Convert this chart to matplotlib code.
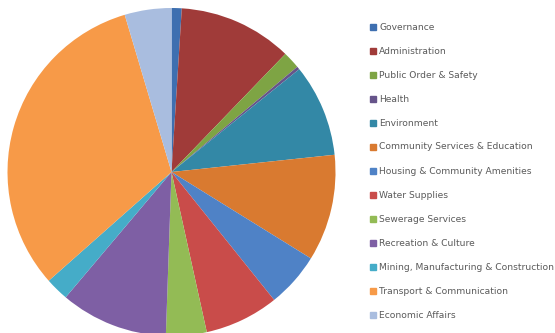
import numpy as np
import matplotlib
matplotlib.use("Agg")
import matplotlib.pyplot as plt
from matplotlib.patches import Rectangle

# spending categories and their shares (percent)
categories = [
    "Governance",
    "Administration",
    "Public Order & Safety",
    "Health",
    "Environment",
    "Community Services & Education",
    "Housing & Community Amenities",
    "Water Supplies",
    "Sewerage Services",
    "Recreation & Culture",
    "Mining, Manufacturing & Construction",
    "Transport & Communication",
    "Economic Affairs",
]
shares = [1.0, 11.2, 1.7, 0.3, 9.1, 10.5, 5.4, 7.3, 4.0, 10.6, 2.3, 31.9, 4.6]
colours = [
    "#3e6fb0", "#a03b39", "#7ea444", "#66548a", "#3388a6", "#d97a30",
    "#4f82c6", "#c94c4a", "#93bb55", "#7e5fa4", "#45acc8", "#f79a48",
    "#a9bddf",
]

W, H = 555, 333
fig = plt.figure(figsize=(W / 100, H / 100), dpi=100)

# pie axes, positioned in pixels
cx, cy, r = 171.5, 161, 164
ax = fig.add_axes([(cx - r) / W, (cy - r) / H, 2 * r / W, 2 * r / H])
ax.pie(shares, colors=colours, startangle=90, counterclock=False,
       wedgeprops=dict(linewidth=0))
ax.set_xlim(-1, 1)
ax.set_ylim(-1, 1)
ax.set_aspect("equal")
ax.axis("off")

# legend drawn by hand: small square + label per row
y0, step = 27, 24.0
for i, (name, col) in enumerate(zip(categories, colours)):
    y = y0 + i * step
    fig.patches.append(Rectangle((370 / W, 1 - (y + 3) / H), 6 / W, 6 / H,
                                 transform=fig.transFigure, color=col))
    fig.text(379 / W, 1 - y / H, name, fontsize=6.6, color="#5a5a5a",
             va="center", ha="left")

fig.savefig("out.png", dpi=100)
